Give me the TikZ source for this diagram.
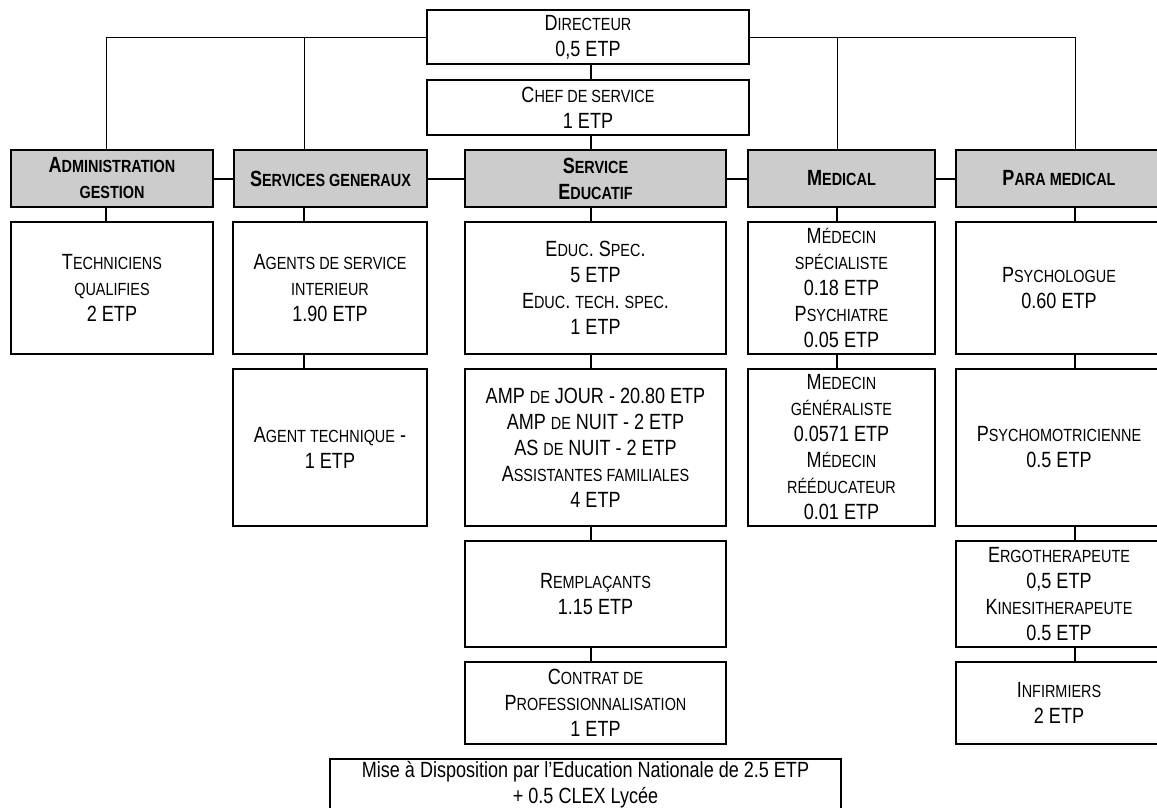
\documentclass[tikz,border=0pt]{standalone}
\usepackage{fontspec}
\setmainfont{Liberation Sans}[FakeStretch=0.82]
\newcommand\smc[1]{{\fontsize{17.6}{26}\selectfont #1}}
\definecolor{hdrgray}{RGB}{204,204,204}
\begin{document}
\begin{tikzpicture}[x=1pt,y=-1pt,
  box/.style={draw=black, line width=2.2pt, inner sep=0pt, align=center,
    font=\fontsize{22}{26}\selectfont},
  hdr/.style={box, fill=hdrgray, font=\fontsize{22}{26}\selectfont\bfseries},
  conn/.style={draw=black, line width=2pt},
  tree/.style={draw=black, line width=0.9pt}]
\useasboundingbox (0,0) rectangle (1157,807);
% column x coordinates
\coordinate (c1) at (106,0);
\coordinate (c2) at (304,0);
\coordinate (c3) at (591,0);
\coordinate (c4) at (837,0);
\coordinate (c5) at (1075,0);
% top
\node[box, minimum width=322pt, minimum height=54pt] (dir) at (588,37) {D\smc{IRECTEUR}\\0,5 ETP};
\node[box, minimum width=322pt, minimum height=55pt] (chef) at (588,107.5) {C\smc{HEF DE SERVICE}\\1 ETP};
% headers
\node[hdr, minimum width=202pt, minimum height=57pt] (adm) at (112,178.5) {A\smc{DMINISTRATION}\\\smc{GESTION}};
\node[hdr, minimum width=193pt, minimum height=57pt] (sg) at (330.5,178.5) {S\smc{ERVICES GENERAUX}};
\node[hdr, minimum width=261pt, minimum height=57pt] (se) at (595.5,178.5) {S\smc{ERVICE}\\E\smc{DUCATIF}};
\node[hdr, minimum width=187pt, minimum height=57pt] (med) at (841.5,178.5) {M\smc{EDICAL}};
\node[hdr, minimum width=206pt, minimum height=57pt] (para) at (1059,178.5) {P\smc{ARA MEDICAL}};
% row 1
\node[box, minimum width=202pt, minimum height=132pt] (tech) at (112,288) {T\smc{ECHNICIENS}\\\smc{QUALIFIES}\\2 ETP};
\node[box, minimum width=194pt, minimum height=132pt] (agents) at (330,288) {A\smc{GENTS DE SERVICE}\\\smc{INTERIEUR}\\1.90 ETP};
\node[box, minimum width=261pt, minimum height=132pt] (educ) at (595.5,288) {E\smc{DUC}. S\smc{PEC}.\\5 ETP\\E\smc{DUC}. \smc{TECH}. \smc{SPEC}.\\1 ETP};
\node[box, minimum width=187pt, minimum height=132pt] (medspec) at (841.5,288) {M\smc{ÉDECIN}\\\smc{SPÉCIALISTE}\\0.18 ETP\\P\smc{SYCHIATRE}\\0.05 ETP};
\node[box, minimum width=206pt, minimum height=132pt] (psycho) at (1059,288) {P\smc{SYCHOLOGUE}\\0.60 ETP};
% row 2
\node[box, minimum width=194pt, minimum height=157pt] (agtech) at (330,447.5) {A\smc{GENT TECHNIQUE} -\\1 ETP};
\node[box, minimum width=261pt, minimum height=157pt] (amp) at (595.5,447.5) {AMP \smc{DE} JOUR - 20.80 ETP\\AMP \smc{DE} NUIT - 2 ETP\\AS \smc{DE} NUIT - 2 ETP\\A\smc{SSISTANTES FAMILIALES}\\4 ETP};
\node[box, minimum width=187pt, minimum height=157pt] (medgen) at (841.5,447.5) {M\smc{EDECIN}\\\smc{GÉNÉRALISTE}\\0.0571 ETP\\M\smc{ÉDECIN}\\\smc{RÉÉDUCATEUR}\\0.01 ETP};
\node[box, minimum width=206pt, minimum height=157pt] (psymot) at (1059,447.5) {P\smc{SYCHOMOTRICIENNE}\\0.5 ETP};
% row 3
\node[box, minimum width=261pt, minimum height=106pt] (rempl) at (595.5,594) {R\smc{EMPLAÇANTS}\\1.15 ETP};
\node[box, minimum width=206pt, minimum height=106pt] (ergo) at (1059,594) {E\smc{RGOTHERAPEUTE}\\0,5 ETP\\K\smc{INESITHERAPEUTE}\\0.5 ETP};
% row 4
\node[box, minimum width=261pt, minimum height=82pt] (contrat) at (595.5,703) {C\smc{ONTRAT DE}\\P\smc{ROFESSIONNALISATION}\\1 ETP};
\node[box, minimum width=206pt, minimum height=82pt] (infirm) at (1059,703) {I\smc{NFIRMIERS}\\2 ETP};
% bottom note
\node[box, minimum width=511pt, minimum height=52pt] (mise) at (585.5,785) {Mise à Disposition par l’Education Nationale de 2.5 ETP\\+ 0.5 CLEX Lycée};
% top tree (thin)
\draw[tree] (dir.west) -| (adm.north -| c1);
\draw[tree] (sg.north -| c2) -- (c2 |- dir.west);
\draw[tree] (dir.east) -| (para.north -| c5);
\draw[tree] (med.north -| c4) -- (c4 |- dir.east);
% central spine
\draw[conn] (dir.south -| c3) -- (chef.north -| c3);
\draw[conn] (chef.south -| c3) -- (se.north -| c3);
% header row links
\draw[conn] (adm.east) -- (sg.west);
\draw[conn] (sg.east) -- (se.west);
\draw[conn] (se.east) -- (med.west);
\draw[conn] (med.east) -- (para.west);
% column links
\draw[conn] (adm.south -| c1) -- (tech.north -| c1);
\draw[conn] (sg.south -| c2) -- (agents.north -| c2);
\draw[conn] (agents.south -| c2) -- (agtech.north -| c2);
\draw[conn] (se.south -| c3) -- (educ.north -| c3);
\draw[conn] (educ.south -| c3) -- (amp.north -| c3);
\draw[conn] (amp.south -| c3) -- (rempl.north -| c3);
\draw[conn] (rempl.south -| c3) -- (contrat.north -| c3);
\draw[conn] (med.south -| c4) -- (medspec.north -| c4);
\draw[conn] (medspec.south -| c4) -- (medgen.north -| c4);
\draw[conn] (para.south -| c5) -- (psycho.north -| c5);
\draw[conn] (psycho.south -| c5) -- (psymot.north -| c5);
\draw[conn] (psymot.south -| c5) -- (ergo.north -| c5);
\draw[conn] (ergo.south -| c5) -- (infirm.north -| c5);
\end{tikzpicture}
\end{document}
